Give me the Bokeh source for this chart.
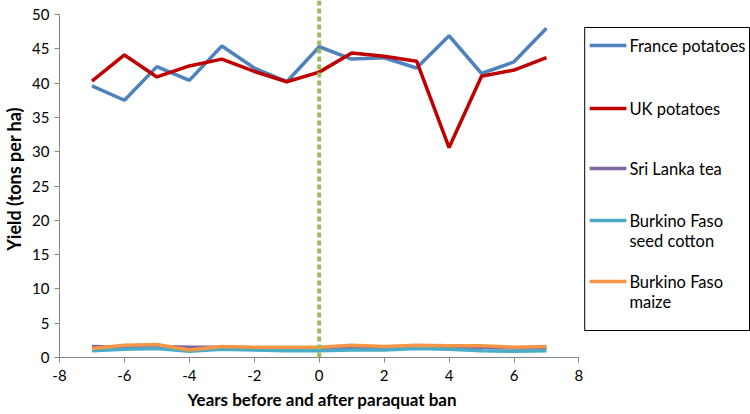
from bokeh.plotting import figure
from bokeh.models import Range1d, Span, FixedTicker, Title
from bokeh.embed import file_html
from bokeh.resources import INLINE
from bokeh.core.properties import value

# ---- data ----
years = [-7, -6, -5, -4, -3, -2, -1, 0, 1, 2, 3, 4, 5, 6, 7]
france_potatoes = [39.6, 37.5, 42.4, 40.4, 45.4, 42.2, 40.2, 45.3, 43.5, 43.7, 42.2, 46.9, 41.4, 43.1, 48.0]
uk_potatoes = [40.3, 44.1, 40.9, 42.5, 43.5, 41.7, 40.2, 41.6, 44.4, 43.9, 43.2, 30.6, 41.0, 41.9, 43.7]
sri_lanka_tea = [1.6, 1.5, 1.6, 1.5, 1.5, 1.4, 1.4, 1.4, 1.5, 1.5, 1.6, 1.5, 1.5, 1.4, 1.4]
bf_seed_cotton = [1.0, 1.2, 1.3, 0.9, 1.2, 1.1, 1.0, 1.0, 1.1, 1.1, 1.3, 1.2, 1.0, 0.9, 1.0]
bf_maize = [1.3, 1.8, 1.9, 1.1, 1.6, 1.5, 1.5, 1.5, 1.8, 1.6, 1.8, 1.7, 1.7, 1.5, 1.6]
series_names = ["France potatoes", "UK potatoes", "Sri Lanka tea",
                "Burkino Faso\nseed cotton", "Burkino Faso\nmaize"]
series_values = [france_potatoes, uk_potatoes, sri_lanka_tea, bf_seed_cotton, bf_maize]
series_colors = ["#4F81BD", "#C00000", "#8064A2", "#4BACC6", "#F79646"]
x_ticks = [-8, -6, -4, -2, 0, 2, 4, 6, 8]
y_ticks = [0, 5, 10, 15, 20, 25, 30, 35, 40, 45, 50]
ban_year = 0
x_title = "Years before and after paraquat ban"
y_title = "Yield (tons per ha)"

FONT = "Lato"

# ---- layout constants (pixels) ----
W, H = 750, 414
BL, BR, BT, BB = 54, 0, 0, 57
FW, FH = W - BL - BR, H - BT - BB          # frame size
PX_PER_X = 32.7
PX_PER_Y = 6.86

p = figure(width=W, height=H,
           x_range=Range1d(-8, -8 + FW / PX_PER_X),
           y_range=Range1d(0, FH / PX_PER_Y),
           output_backend="svg", toolbar_location=None,
           min_border_left=BL, min_border_right=BR, min_border_top=BT, min_border_bottom=BB)
p.outline_line_color = None
p.grid.visible = False
# pixel ranges for the legend panel (x from frame left, y from frame top)
p.extra_x_ranges = {"lgx": Range1d(0, FW)}
p.extra_y_ranges = {"lgy": Range1d(FH, 0)}

for vals, col in zip(series_values, series_colors):
    p.line(years, vals, line_color=col, line_width=3.5)

p.add_layout(Span(location=ban_year, dimension="height", line_color="#9BBB59",
                  line_width=4, line_dash="5 3"))

p.xaxis.ticker = FixedTicker(ticks=x_ticks)
p.yaxis.ticker = FixedTicker(ticks=y_ticks)
p.xaxis.bounds = (x_ticks[0], x_ticks[-1])
p.yaxis.bounds = (y_ticks[0], y_ticks[-1])
p.xaxis.major_label_overrides = {t: str(t) for t in x_ticks}
p.yaxis.major_label_overrides = {t: str(t) for t in y_ticks}
for ax in (p.xaxis, p.yaxis):
    ax.axis_line_color = "#868686"
    ax.axis_line_width = 1
    ax.major_tick_line_color = "#868686"
    ax.major_tick_in = 0
    ax.major_tick_out = 5
    ax.minor_tick_line_color = None
    ax.major_label_text_font = FONT
    ax.major_label_text_font_size = "15px"
    ax.major_label_text_color = "#000000"
    ax.axis_label_text_font = FONT
    ax.axis_label_text_font_style = "bold"
    ax.axis_label_text_color = "#000000"
p.xaxis.major_label_standoff = 7
p.yaxis.major_label_standoff = 5
p.yaxis.axis_label = y_title
p.yaxis.axis_label_text_font_size = "18px"
p.yaxis.axis_label_standoff = 4

# x title placed under the -8..8 axis (frame is wider because of the legend)
p.add_layout(Title(text=x_title, align="left", offset=128,
                   text_font=FONT, text_font_size="17px", text_font_style="bold",
                   text_color="#000000", standoff=6), "below")

# ---- legend (drawn in pixel ranges) ----
box = dict(left=529, right=695, top=27, bottom=330)
p.quad(left=[box["left"]], right=[box["right"]], top=[box["top"]], bottom=[box["bottom"]],
       fill_color=None, line_color="#000000", line_width=1,
       x_range_name="lgx", y_range_name="lgy")
row_y = [45, 108, 168, 220, 281]
line_gap = 20
tx, ty, tt = [], [], []
for name, yy in zip(series_names, row_y):
    for k, part in enumerate(name.split("\n")):
        tx.append(574)
        ty.append(yy + k * line_gap)
        tt.append(part)
p.segment(x0=[534] * len(row_y), y0=row_y, x1=[571] * len(row_y), y1=row_y,
          line_color=series_colors, line_width=3.5, x_range_name="lgx", y_range_name="lgy")
p.text(x=tx, y=ty, text=tt, text_baseline="middle", text_align="left",
       text_font=value(FONT), text_font_size="16.5px", text_color="#000000",
       x_range_name="lgx", y_range_name="lgy")

open("out.html", "w").write(file_html(p, INLINE))
